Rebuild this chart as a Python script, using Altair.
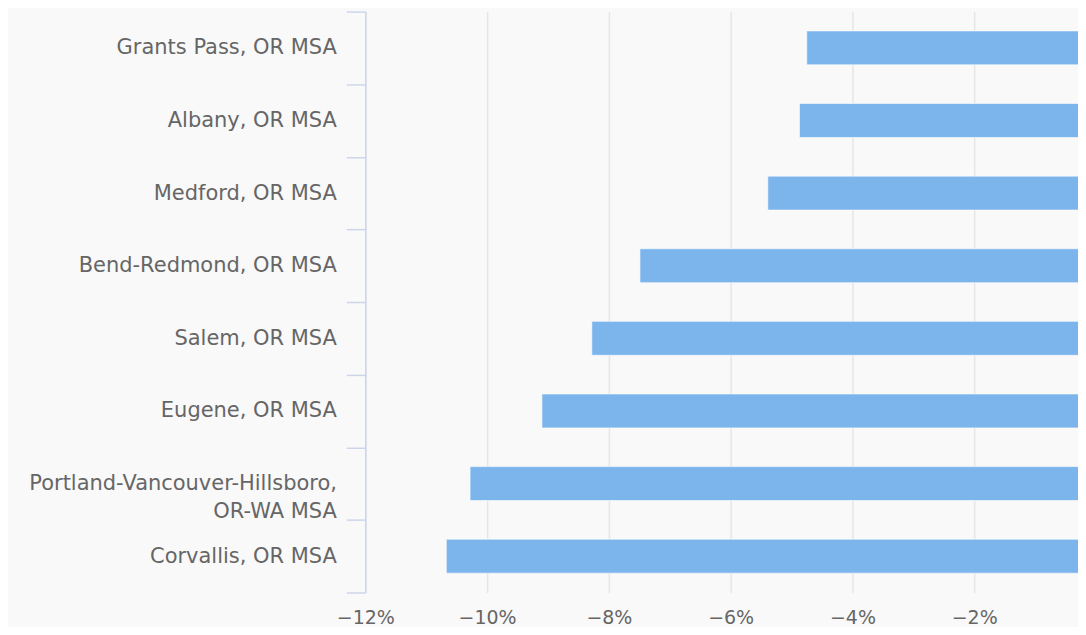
import altair as alt
import pandas as pd

areas = [
    "Grants Pass, OR MSA",
    "Albany, OR MSA",
    "Medford, OR MSA",
    "Bend-Redmond, OR MSA",
    "Salem, OR MSA",
    "Eugene, OR MSA",
    "Portland-Vancouver-Hillsboro, OR-WA MSA",
    "Corvallis, OR MSA",
]
changes = [-4.75, -4.87, -5.39, -7.49, -8.28, -9.10, -10.28, -10.67]
x_ticks = [-12, -10, -8, -6, -4, -2, 0]

df = pd.DataFrame({"area": areas, "change": changes})

font = "DejaVu Sans"
label_expr = (
    "datum.label == 'Portland-Vancouver-Hillsboro, OR-WA MSA' ? "
    "['Portland-Vancouver-Hillsboro,', 'OR-WA MSA'] : datum.label"
)

chart = (
    alt.Chart(df)
    .mark_bar(color="#7cb5ec", stroke="#ffffff", strokeWidth=1, strokeOpacity=0.6, size=34)
    .encode(
        x=alt.X(
            "change:Q",
            scale=alt.Scale(domain=[-12, 0], nice=False, zero=False),
            axis=alt.Axis(
                values=x_ticks,
                labelExpr="format(datum.value, 'd') + '%'",
                title=None,
                domain=False,
                ticks=False,
                grid=True,
                gridColor="#e6e6e6",
                gridWidth=1.5,
                labelPadding=16,
                labelFont=font,
                labelFontSize=19,
                labelColor="#666666",
                labelFlush=False,
            ),
        ),
        y=alt.Y(
            "area:N",
            sort=areas,
            scale=alt.Scale(paddingInner=0, paddingOuter=0),
            axis=alt.Axis(
                title=None,
                domainColor="#ccd6eb",
                domainWidth=1.5,
                tickColor="#ccd6eb",
                tickWidth=1.5,
                tickSize=19,
                tickBand="extent",
                labelPadding=10,
                labelFont=font,
                labelFontSize=21,
                labelColor="#666666",
                labelExpr=label_expr,
                labelLineHeight=28,
                labelLimit=400,
                grid=False,
            ),
        ),
    )
    .properties(
        width=732,
        height=582,
        background="#f9f9f9",
        autosize=alt.AutoSizeParams(type="none"),
        padding={"left": 358, "top": 3, "right": -18, "bottom": 34},
    )
    .configure_view(stroke=None)
)

chart.save("out.html", embed_options={"renderer": "svg", "actions": False})
